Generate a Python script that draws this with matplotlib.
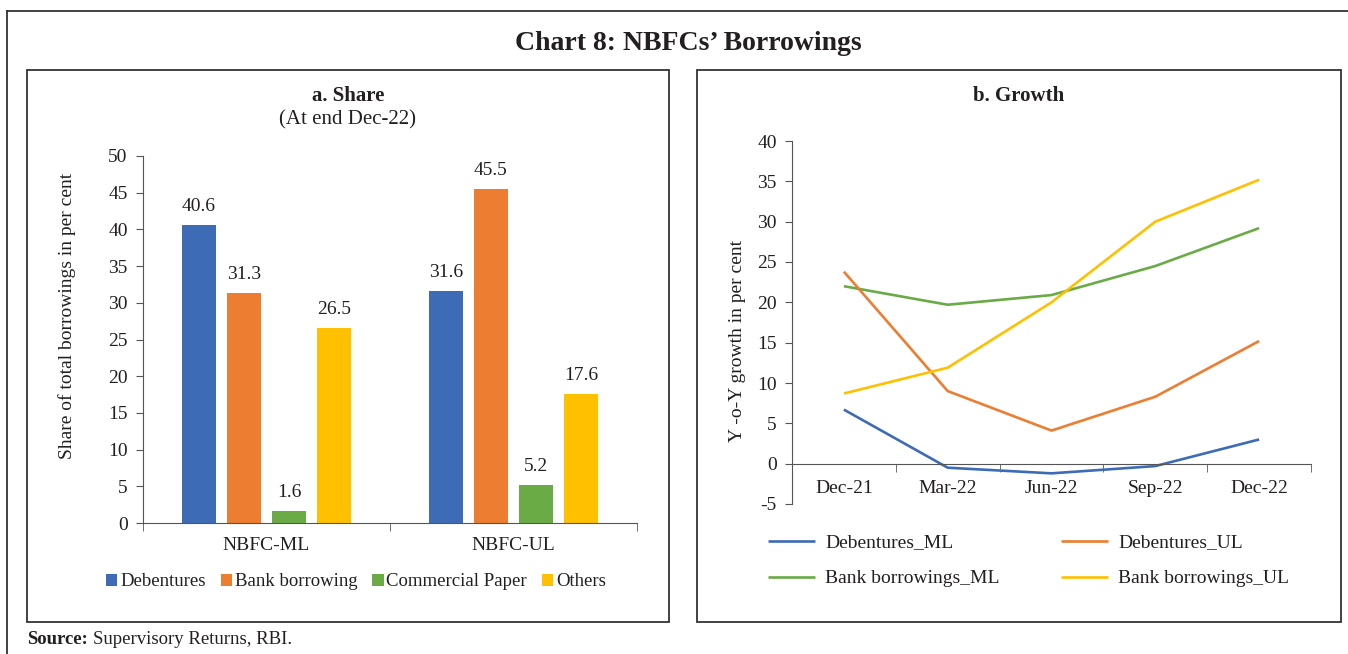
import numpy as np
import matplotlib.pyplot as plt
from matplotlib.patches import Rectangle
from matplotlib.lines import Line2D
from matplotlib.ticker import FixedLocator

# =====================================================
# DATA
# =====================================================

groups = ["NBFC-ML", "NBFC-UL"]
share_labels = ["Debentures", "Bank borrowing", "Commercial Paper", "Others"]
share_ml = [40.6, 31.3, 1.6, 26.5]
share_ul = [31.6, 45.5, 5.2, 17.6]

quarters = ["Dec-21", "Mar-22", "Jun-22", "Sep-22", "Dec-22"]
deb_ml = [6.7, -0.5, -1.2, -0.3, 3.0]
deb_ul = [23.8, 9.0, 4.1, 8.3, 15.2]
bank_ml = [22.0, 19.7, 20.9, 24.5, 29.2]
bank_ul = [8.7, 11.9, 20.0, 30.0, 35.2]

colors = ["#3E6BB6", "#ED7D31", "#6AAB46", "#FFC000"]
txt = "#231F20"
fs = 14

plt.rcParams["font.family"] = ["Liberation Serif", "DejaVu Serif"]
plt.rcParams["axes.unicode_minus"] = False
plt.rcParams["text.color"] = txt
plt.rcParams["axes.labelcolor"] = txt
plt.rcParams["xtick.color"] = txt
plt.rcParams["ytick.color"] = txt

W, H = 1348, 654
fig = plt.figure(figsize=(W / 100, H / 100), dpi=100)


def fx(px):
    return px / W


def fy(py):
    return 1 - py / H


# =====================================================
# FRAMES AND TITLES
# =====================================================

fig.add_artist(Line2D([fx(7), 1], [fy(11), fy(11)], color="#333333", lw=1.3))
fig.add_artist(Line2D([fx(7), fx(7)], [fy(11), 0], color="#333333", lw=1.3))
for x0, x1 in [(27, 669), (697, 1341)]:
    fig.add_artist(Rectangle((fx(x0), fy(622)), fx(x1 - x0), fy(70) - fy(622),
                             fill=False, edgecolor="#333333", lw=1.3))

fig.text(fx(688), fy(44), "Chart 8: NBFCs\u2019 Borrowings", ha="center", va="center",
         fontsize=20, fontweight="bold")
fig.text(fx(348), fy(96), "a. Share", ha="center", va="center", fontsize=15, fontweight="bold")
fig.text(fx(348), fy(120), "(At end Dec-22)", ha="center", va="center", fontsize=15)
fig.text(fx(1019), fy(96), "b. Growth", ha="center", va="center", fontsize=15, fontweight="bold")

src = fig.text(fx(27), fy(640), "Source:", ha="left", va="center", fontsize=13.5, fontweight="bold")
fig.canvas.draw()
bb = src.get_window_extent()
fig.text(bb.x1 / W + fx(5), fy(640), "Supervisory Returns, RBI.", ha="left", va="center", fontsize=13.5)

# =====================================================
# BAR CHART - SHARE
# =====================================================

ax1 = fig.add_axes([fx(143), fy(523), fx(637 - 143), fy(156) - fy(523)])
xpos = np.arange(len(groups))
offsets = np.array([-1.5, -0.5, 0.5, 1.5]) * 0.183
width = 0.138
for i, lab in enumerate(share_labels):
    vals = [share_ml[i], share_ul[i]]
    bars = ax1.bar(xpos + offsets[i], vals, width, color=colors[i], label=lab)
    for b, v in zip(bars, vals):
        ax1.text(b.get_x() + b.get_width() / 2, v + 1.4, f"{v:.1f}", ha="center", va="bottom",
                 fontsize=fs)

ax1.set_xlim(-0.5, 1.5)
ax1.set_ylim(0, 50)
ax1.set_yticks(np.arange(0, 51, 5))
ax1.set_xticks(xpos)
ax1.set_xticklabels(groups)
ax1.xaxis.set_minor_locator(FixedLocator([-0.5, 0.5, 1.5]))
ax1.tick_params(axis="x", which="major", length=0, pad=10, labelsize=fs)
ax1.tick_params(axis="x", which="minor", length=6, direction="out", color="#555555")
ax1.tick_params(axis="y", length=5, labelsize=fs, pad=6, color="#555555")
for s in ["top", "right"]:
    ax1.spines[s].set_visible(False)
for s in ["left", "bottom"]:
    ax1.spines[s].set_color("#555555")
ax1.set_ylabel("Share of total borrowings in per cent", fontsize=fs)
ax1.yaxis.set_label_coords(-0.1356, 0.565)

fig.legend(*ax1.get_legend_handles_labels(), loc="center", bbox_to_anchor=(fx(356), fy(582)),
           ncol=4, frameon=False, fontsize=13.5, handlelength=0.6, handleheight=0.6,
           handletextpad=0.15, columnspacing=0.8, borderpad=0)

# =====================================================
# LINE CHART - GROWTH
# =====================================================

ax2 = fig.add_axes([fx(792), fy(504), fx(1311 - 792), fy(141) - fy(504)])
xq = np.arange(len(quarters))
series = [(deb_ml, "Debentures_ML", colors[0]), (bank_ml, "Bank borrowings_ML", colors[2]),
          (deb_ul, "Debentures_UL", colors[1]), (bank_ul, "Bank borrowings_UL", colors[3])]
lines = []
for vals, lab, c in series:
    ln, = ax2.plot(xq, vals, color=c, lw=1.9, label=lab, solid_capstyle="butt")
    lines.append(ln)

ax2.set_xlim(-0.5, 4.5)
ax2.set_ylim(-5, 40)
ax2.set_yticks(np.arange(-5, 41, 5))
ax2.spines["bottom"].set_position(("data", 0))
ax2.set_xticks(xq)
ax2.set_xticklabels(quarters)
ax2.xaxis.set_minor_locator(FixedLocator(np.arange(-0.5, 4.6, 1)))
ax2.tick_params(axis="x", which="major", length=0, pad=12, labelsize=fs)
ax2.tick_params(axis="x", which="minor", length=6, direction="out", color="#555555")
ax2.tick_params(axis="y", length=5, labelsize=fs, pad=6, color="#555555")
for s in ["top", "right"]:
    ax2.spines[s].set_visible(False)
for s in ["left", "bottom"]:
    ax2.spines[s].set_color("#555555")
ax2.set_ylabel("Y -o-Y growth in per cent", fontsize=fs)
ax2.yaxis.set_label_coords(-0.0886, 0.45)

fig.legend(handles=lines, loc="upper left", bbox_to_anchor=(fx(758), fy(524)), ncol=2,
           frameon=False, fontsize=fs, handlelength=2.45, handletextpad=0.5,
           columnspacing=3.15, borderpad=0, labelspacing=0.95)

fig.savefig("out.png", dpi=100)
